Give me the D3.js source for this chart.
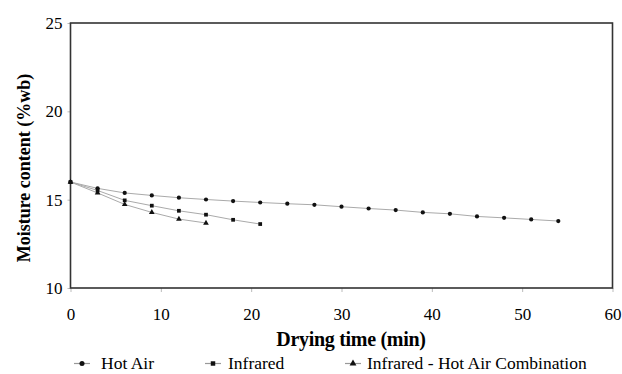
<!DOCTYPE html>
<html>
<head>
<meta charset="utf-8">
<script src="https://cdn.jsdelivr.net/npm/d3@7"></script>
<style>
  body { margin: 0; background: #fff; }
</style>
</head>
<body>
<svg width="622" height="374"></svg>
<script>
const hotAirTime = [0, 3, 6, 9, 12, 15, 18, 21, 24, 27, 30, 33, 36, 39, 42, 45, 48, 51, 54];
const hotAirMoisture = [16.0, 15.64, 15.38, 15.24, 15.11, 15.01, 14.92, 14.84, 14.77, 14.71, 14.60, 14.50, 14.41, 14.28, 14.20, 14.05, 13.97, 13.88, 13.79];
const infraredTime = [0, 3, 6, 9, 12, 15, 18, 21];
const infraredMoisture = [16.0, 15.52, 14.96, 14.66, 14.37, 14.15, 13.86, 13.62];
const comboTime = [0, 3, 6, 9, 12, 15];
const comboMoisture = [16.0, 15.38, 14.73, 14.28, 13.90, 13.68];
const xTicks = [0, 10, 20, 30, 40, 50, 60];
const yTicks = [10, 15, 20, 25];
const seriesNames = ["Hot Air", "Infrared", "Infrared - Hot Air Combination"];

const serif = "'Liberation Serif', 'Times New Roman', 'DejaVu Serif', serif";

const svg = d3.select("svg");
const margin = { top: 23, right: 9.5, bottom: 86, left: 70.5 };
const width = 622 - margin.left - margin.right;
const height = 374 - margin.top - margin.bottom;
const g = svg.append("g").attr("transform", "translate(" + margin.left + "," + margin.top + ")");

const x = d3.scaleLinear().domain([0, 60]).range([0, width]);
const y = d3.scaleLinear().domain([10, 25]).range([height, 0]);

const series = [
  { name: seriesNames[0], shape: d3.symbolCircle, pts: hotAirTime.map((t, i) => [t, hotAirMoisture[i]]) },
  { name: seriesNames[1], shape: d3.symbolSquare, pts: infraredTime.map((t, i) => [t, infraredMoisture[i]]) },
  { name: seriesNames[2], shape: d3.symbolTriangle, pts: comboTime.map((t, i) => [t, comboMoisture[i]]) },
];

// axes
const xAxis = g.append("g")
  .attr("transform", "translate(0," + height + ")")
  .call(d3.axisBottom(x).tickValues(xTicks).tickSize(4).tickPadding(16));
xAxis.attr("font-family", serif).attr("font-size", 17);
xAxis.selectAll("line").attr("stroke", "#bbb");
xAxis.select(".domain").remove();

const yAxis = g.append("g")
  .call(d3.axisLeft(y).tickValues(yTicks).tickSize(3).tickPadding(5));
yAxis.attr("font-family", serif).attr("font-size", 17);
yAxis.selectAll("line").attr("stroke", "#bbb");
yAxis.select(".domain").remove();

// plot frame
g.append("rect")
  .attr("width", width).attr("height", height)
  .attr("fill", "none").attr("stroke", "#333").attr("stroke-width", 1.6);

const line = d3.line().x(d => x(d[0])).y(d => y(d[1]));

series.forEach(s => {
  g.append("path")
    .datum(s.pts)
    .attr("d", line)
    .attr("fill", "none")
    .attr("stroke", "#aaa")
    .attr("stroke-width", 1);
});

series.forEach(s => {
  g.selectAll(null)
    .data(s.pts)
    .enter().append("path")
    .attr("d", d3.symbol().type(s.shape).size(14))
    .attr("transform", d => "translate(" + x(d[0]) + "," + y(d[1]) + ")")
    .attr("fill", "#111");
});

// axis titles
svg.append("text")
  .attr("x", 351).attr("y", 345.5)
  .attr("text-anchor", "middle")
  .attr("font-family", serif)
  .attr("font-size", 20).attr("font-weight", "bold")
  .attr("letter-spacing", -0.3)
  .text("Drying time (min)");

svg.append("text")
  .attr("transform", "translate(30,168) rotate(-90)")
  .attr("text-anchor", "middle")
  .attr("font-family", serif)
  .attr("font-size", 18).attr("font-weight", "bold")
  .text("Moisture content (%wb)");

// legend
const legendMarkX = [74, 205, 345];
const legendTextX = [101, 228, 367];
const legend = svg.append("g");
series.forEach((s, i) => {
  const lg = legend.append("g").attr("transform", "translate(0,363.5)");
  lg.append("line")
    .attr("x1", legendMarkX[i]).attr("x2", legendMarkX[i] + 16)
    .attr("stroke", "#999").attr("stroke-width", 1.2);
  lg.append("path")
    .attr("d", d3.symbol().type(s.shape).size(20))
    .attr("transform", "translate(" + (legendMarkX[i] + 8) + ",0)")
    .attr("fill", "#111");
  lg.append("text")
    .attr("x", legendTextX[i]).attr("y", 5.5)
    .attr("font-family", serif)
    .attr("font-size", 17.5)
    .text(s.name);
});
</script>
</body>
</html>
